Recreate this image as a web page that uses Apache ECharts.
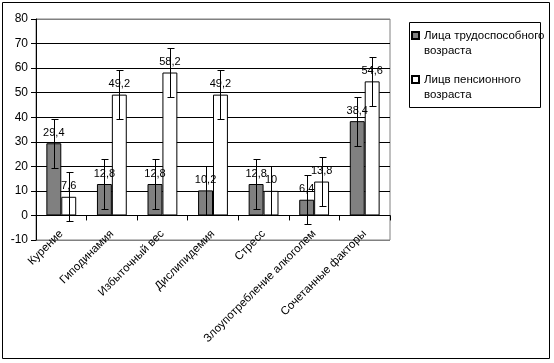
<!DOCTYPE html>
<html><head><meta charset="utf-8">
<script src="https://cdn.jsdelivr.net/npm/echarts@6/dist/echarts.min.js"></script>
<style>html,body{margin:0;padding:0;background:#fff}#c{width:554px;height:363px}</style>
</head><body><div id="c"></div>
<script>
var categories = ['Курение','Гиподинамия','Избыточный вес','Дислипидемия','Стресс','Злоупотребление алкоголем','Сочетанные факторы'];
var seriesNames = ['Лица трудоспособного\nвозраста','Лицв пенсионного\nвозраста'];
var working = [29.4, 12.8, 12.8, 10.2, 12.8, 6.4, 38.4];
var pension = [7.6, 49.2, 58.2, 49.2, 10, 13.8, 54.6];
var errWorking = [10, 10, 10, 10, 10, 10, 10];
var errPension = [10, 10, 10, 10, 10, 10, 10];
var yTicks = {min: -10, max: 80, interval: 10};

var GAP = 0.41;
var errData = [];
working.forEach(function(v,i){ errData.push([i, v, errWorking[i], -1]); });
pension.forEach(function(v,i){ errData.push([i, v, errPension[i], 1]); });

var font = 'Arial, "Liberation Sans", sans-serif';
function fmt(p){ return String(p.value).replace('.', ','); }

var chart = echarts.init(document.getElementById('c'));
chart.setOption({
  animation: false,
  backgroundColor: '#fff',
  textStyle: {fontFamily: font},
  grid: {left: 36, top: 19, right: 164, bottom: 123, show: true, borderColor: '#808080', borderWidth: 1, backgroundColor: 'transparent'},
  legend: {
    orient: 'vertical', left: 411, top: 13, itemWidth: 7, itemHeight: 7, itemGap: -1,
    icon: 'rect', padding: 0,
    formatter: function(n){ return '\n' + n; },
    textStyle: {fontSize: 11.5, color: '#000', fontFamily: font, lineHeight: 15},
    data: seriesNames
  },
  xAxis: {
    type: 'category', data: categories,
    axisLine: {onZero: true, lineStyle: {color: '#000', width: 1}},
    axisTick: {show: true, length: 5, lineStyle: {color: '#000'}},
    axisLabel: {rotate: 45, margin: -8, fontSize: 11.5, color: '#000', fontFamily: font, interval: 0},
    splitLine: {show: false}
  },
  yAxis: {
    type: 'value', min: yTicks.min, max: yTicks.max, interval: yTicks.interval,
    axisLine: {show: true, lineStyle: {color: '#000'}},
    axisTick: {show: true, length: 5, lineStyle: {color: '#000'}},
    axisLabel: {fontSize: 12, color: '#000', margin: 8, fontFamily: font},
    splitLine: {show: true, lineStyle: {color: ['#808080','#000','#000','#000','#000','#000','#000','#000','#000','#808080'], width: 1}}
  },
  graphic: [
    {type: 'rect', shape: {x: 2.5, y: 2.5, width: 547, height: 356}, style: {fill: 'none', stroke: '#000', lineWidth: 1}, silent: true, z: -1},
    {type: 'rect', shape: {x: 409.5, y: 22.5, width: 131, height: 85}, style: {fill: 'none', stroke: '#000', lineWidth: 1}, silent: true}
  ],
  series: [
    {name: seriesNames[0], type: 'bar', data: working, barGap: '0%', barCategoryGap: (GAP*100)+'%',
     itemStyle: {color: '#808080', borderColor: '#000', borderWidth: 1},
     label: {show: true, position: 'top', distance: 5, fontSize: 11, color: '#000', fontFamily: font, formatter: fmt}, z: 2},
    {name: seriesNames[1], type: 'bar', data: pension,
     itemStyle: {color: '#fff', borderColor: '#000', borderWidth: 1},
     label: {show: true, position: 'top', distance: 5, fontSize: 11, color: '#000', fontFamily: font, formatter: fmt}, z: 2},
    {type: 'custom', data: errData, encode: {x: 0, y: 1}, z: 3, silent: true,
     renderItem: function(params, api){
       var i = api.value(0), v = api.value(1), e = api.value(2), s = api.value(3);
       var band = api.size([1, 0])[0];
       var bw = band * (1 - GAP) / 2;
       var hi = api.coord([i, v + e]), lo = api.coord([i, v - e]);
       var x = Math.round(hi[0] + s * bw / 2) + 0.5;
       var y1 = Math.round(hi[1]) + 0.5, y2 = Math.round(lo[1]) + 0.5;
       var cw = 3;
       var st = {stroke: '#000', lineWidth: 1};
       return {type: 'group', children: [
         {type: 'line', shape: {x1: x, y1: y1, x2: x, y2: y2}, style: st},
         {type: 'line', shape: {x1: x - cw, y1: y1, x2: x + cw + 1, y2: y1}, style: st},
         {type: 'line', shape: {x1: x - cw, y1: y2, x2: x + cw + 1, y2: y2}, style: st}
       ]};
     }}
  ]
});
</script></body></html>
